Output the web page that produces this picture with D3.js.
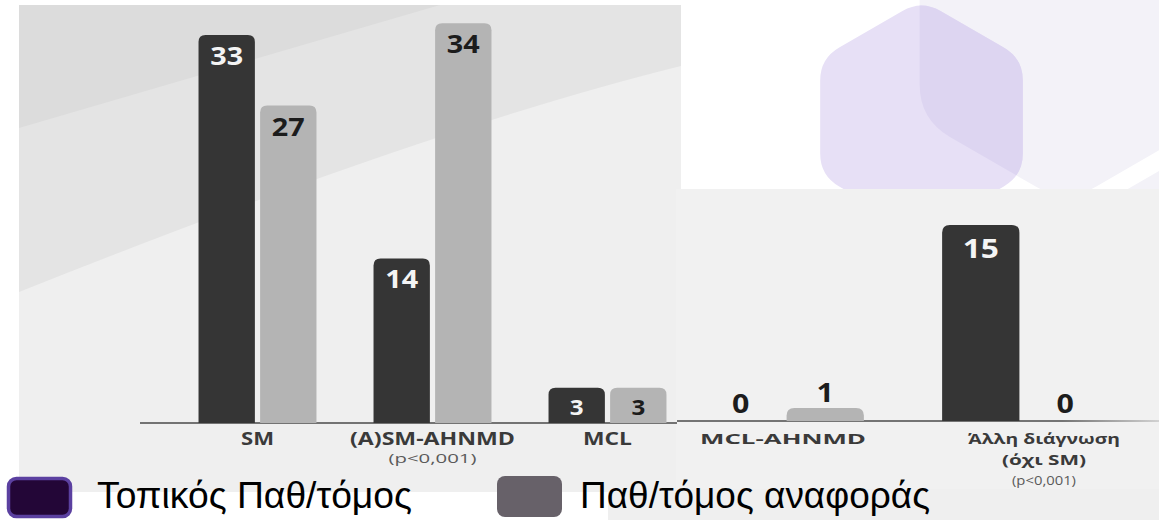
<!DOCTYPE html>
<html>
<head>
<meta charset="utf-8">
<script src="https://cdn.jsdelivr.net/npm/d3@7"></script>
<style>
  html, body { margin: 0; padding: 0; background: #ffffff; }
  svg { display: block; }
</style>
</head>
<body>
<svg id="chart" width="1159" height="520"></svg>
<script>
// ---- data ----
const categories = ["SM", "(A)SM-AHNMD", "MCL", "MCL-AHNMD", "Άλλη διάγνωση"];
const categorySubLines = ["", "", "", "", "(όχι SM)"];
const pValueNotes = ["", "(p<0,001)", "", "", "(p<0,001)"];
const seriesNames = ["Τοπικός Παθ/τόμος", "Παθ/τόμος αναφοράς"];
const localValues = [33, 14, 3, 0, 15];
const referenceValues = [27, 34, 3, 1, 0];

// ---- layout ----
const W = 1159, H = 520;
const svg = d3.select("#chart");
const seriesKeys = ["local", "reference"];
const barFill = { local: "#353535", reference: "#b4b4b4" };
const labelFillInside = { local: "#f4f4f4", reference: "#1c1c1c" };

const rows = categories.map((c, i) => ({
  name: c, sub: categorySubLines[i], note: pValueNotes[i],
  local: localValues[i], reference: referenceValues[i]
}));

// the chart is composed of two panels sharing the same style
const panels = [
  { rows: rows.slice(0, 3), xRange: [170, 695], yMax: 33, yRange: [423, 35],
    axis: [140, 677], k: 1, labelSize: 17.5, noteSize: 13.5, noteWidth: 88, labelShift: 0, fade: false,
    lineY: [445, 463, 463] },
  { rows: rows.slice(3), xRange: [663, 1143], yMax: 15, yRange: [421, 225],
    axis: [677, 1159], k: 1.1, labelSize: 15, noteSize: 13, noteWidth: 64, labelShift: 21, fade: true,
    lineY: [444, 465, 485] }
];
// rendered widths of the category captions (the typeface is drawn wide)
const captionWidth = { "SM": 33, "(A)SM-AHNMD": 165, "MCL": 49, "MCL-AHNMD": 166,
  "Άλλη διάγνωση": 152, "(όχι SM)": 84 };

// ---- background ----
const defs = svg.append("defs");
const fadeGrad = defs.append("linearGradient").attr("id", "axisFade")
  .attr("gradientUnits", "userSpaceOnUse").attr("x1", 677).attr("x2", 1159).attr("y1", 0).attr("y2", 0);
fadeGrad.append("stop").attr("offset", "0.8").attr("stop-color", "#4a4a4a");
fadeGrad.append("stop").attr("offset", "1").attr("stop-color", "#4a4a4a").attr("stop-opacity", 0.25);

const bg = svg.append("g");
bg.append("rect").attr("x", 19).attr("y", 5).attr("width", W - 19).attr("height", H - 5)
  .attr("fill", "#efefef");
bg.append("path").attr("d", "M19,5H681V66Q430,128 19,292Z").attr("fill", "#e4e4e4");
bg.append("path").attr("d", "M19,5H440L19,128Z").attr("fill", "#dcdcdc");
bg.append("rect").attr("x", 676).attr("y", 189).attr("width", W - 676).attr("height", 300)
  .attr("fill", "#f1f1f1");

// top-right decorative panel with rounded hexagons
function roundedHex(cx, cy, R, r) {
  const pts = d3.range(6).map(i => {
    const a = (-90 + 60 * i) * Math.PI / 180;
    return [cx + R * Math.cos(a), cy + R * Math.sin(a)];
  });
  let d = "";
  pts.forEach((p, i) => {
    const prev = pts[(i + 5) % 6], next = pts[(i + 1) % 6];
    const L = Math.hypot(p[0] - prev[0], p[1] - prev[1]);
    const a = [p[0] + (prev[0] - p[0]) * r / L, p[1] + (prev[1] - p[1]) * r / L];
    const b = [p[0] + (next[0] - p[0]) * r / L, p[1] + (next[1] - p[1]) * r / L];
    d += (i === 0 ? "M" : "L") + a[0] + "," + a[1] + "Q" + p[0] + "," + p[1] + " " + b[0] + "," + b[1];
  });
  return d + "Z";
}
defs.append("clipPath").attr("id", "panelClip")
  .append("rect").attr("x", 681).attr("y", 0).attr("width", W - 681).attr("height", 189);
const bigHex = roundedHex(1066, 35, 169, 35);
defs.append("clipPath").attr("id", "bigHexClip").append("path").attr("d", bigHex);
const deco = svg.append("g").attr("clip-path", "url(#panelClip)");
deco.append("rect").attr("x", 681).attr("y", 0).attr("width", W - 681).attr("height", 189).attr("fill", "#ffffff");
deco.append("path").attr("d", bigHex).attr("fill", "#f3f2f8");
deco.append("path").attr("d", roundedHex(1230, 280, 150, 30)).attr("fill", "#f3f2f8");
const smallHex = roundedHex(921.5, 117, 117, 22);
deco.append("path").attr("d", smallHex).attr("fill", "#e7e0f6");
deco.append("g").attr("clip-path", "url(#bigHexClip)")
  .append("path").attr("d", smallHex).attr("fill", "#ddd5f1");

// ---- bars ----
function topRounded(x, y, w, h, r) {
  r = Math.min(r, h, w / 2);
  return `M${x},${y + h}V${y + r}Q${x},${y} ${x + r},${y}H${x + w - r}Q${x + w},${y} ${x + w},${y + r}V${y + h}Z`;
}
function stretch(sel, f) {
  sel.each(function () {
    const n = this.getComputedTextLength();
    this.setAttribute("textLength", n * f);
    this.setAttribute("lengthAdjust", "spacingAndGlyphs");
  });
}
function fitWidth(sel, widthOf) {
  sel.each(function (d) {
    const w = widthOf(d);
    if (w) {
      this.setAttribute("textLength", w);
      this.setAttribute("lengthAdjust", "spacingAndGlyphs");
    }
  });
}

panels.forEach(p => {
  const x0 = d3.scaleBand().domain(p.rows.map(d => d.name)).range(p.xRange)
    .paddingInner(0.326).paddingOuter(0.163);
  const x1 = d3.scaleBand().domain(seriesKeys).range([0, x0.bandwidth()])
    .paddingInner(0.085).paddingOuter(0);
  const y = d3.scaleLinear().domain([0, p.yMax]).range(p.yRange);
  const base = y(0), k = p.k;
  const g = svg.append("g");

  // axis line
  g.append("line").attr("x1", p.axis[0]).attr("x2", p.axis[1])
    .attr("y1", base).attr("y2", base)
    .attr("stroke", p.fade ? "url(#axisFade)" : "#4a4a4a").attr("stroke-width", 1.6);

  const items = p.rows.flatMap(r => seriesKeys.map(s => ({ cat: r.name, s, v: r[s] })));
  const cells = g.selectAll("g.cell").data(items).join("g").attr("class", "cell")
    .attr("transform", d => `translate(${x0(d.cat) + x1(d.s)},0)`);
  const bw = x1.bandwidth();

  cells.filter(d => d.v > 0).append("path")
    .attr("d", d => topRounded(0, y(d.v), bw, base - y(d.v), 7 * k))
    .attr("fill", d => barFill[d.s]);

  cells.append("text")
    .attr("x", bw / 2)
    .attr("text-anchor", "middle")
    .attr("font-family", "'Open Sans', sans-serif")
    .attr("font-weight", 700)
    .each(function (d) {
      const h = base - y(d.v), t = d3.select(this);
      if (h < 20) {
        t.attr("y", d.v === 0 ? base - 8 : y(d.v) - 6)
          .attr("font-size", 24 * k).attr("fill", "#1c1c1c");
      } else if (h < 45) {
        t.attr("y", y(d.v) + 27).attr("font-size", 21 * k).attr("fill", labelFillInside[d.s]);
      } else {
        t.attr("y", y(d.v) + 30 * k).attr("font-size", 25 * k).attr("fill", labelFillInside[d.s]);
      }
    })
    .text(d => d.v)
    .call(stretch, 1.15);

  // category captions
  const labels = g.selectAll("g.cat").data(p.rows).join("g").attr("class", "cat")
    .attr("transform", (d, i) => `translate(${x0(d.name) + x0.bandwidth() / 2 + (i === p.rows.length - 1 ? p.labelShift : 0)},0)`)
    .attr("text-anchor", "middle")
    .attr("font-family", "'Open Sans', sans-serif");
  labels.append("text").attr("y", p.lineY[0]).attr("font-size", p.labelSize).attr("font-weight", 700)
    .attr("fill", "#3a3a3a").text(d => d.name).call(fitWidth, d => captionWidth[d.name]);
  labels.filter(d => d.sub).append("text").attr("y", p.lineY[1]).attr("font-size", p.labelSize)
    .attr("font-weight", 700).attr("fill", "#3a3a3a").text(d => d.sub)
    .call(fitWidth, d => captionWidth[d.sub]);
  labels.filter(d => d.note).append("text").attr("y", d => d.sub ? p.lineY[2] : p.lineY[1])
    .attr("font-size", p.noteSize).attr("fill", "#5a5a5a").text(d => d.note)
    .call(fitWidth, () => p.noteWidth);
});

// ---- legend ----
svg.append("rect").attr("x", 0).attr("y", 492).attr("width", 608).attr("height", 28).attr("fill", "#ffffff");
const legendItems = [
  { name: seriesNames[0], sx: 8.5, sy: 478.5, sw: 62, sh: 38, fill: "#230637", stroke: "#5b40a0", tx: 97, tw: 315 },
  { name: seriesNames[1], sx: 497, sy: 476, sw: 65, sh: 41, fill: "#676169", stroke: "none", tx: 580, tw: 350 }
];
const lg = svg.append("g").selectAll("g").data(legendItems).join("g");
lg.append("rect").attr("x", d => d.sx).attr("y", d => d.sy).attr("width", d => d.sw).attr("height", d => d.sh)
  .attr("rx", 8).attr("fill", d => d.fill).attr("stroke", d => d.stroke).attr("stroke-width", 3.5);
lg.append("text").attr("x", d => d.tx).attr("y", 508)
  .attr("font-family", "'Liberation Sans', Arial, sans-serif").attr("font-size", 36.5)
  .attr("fill", "#000000").text(d => d.name)
  .call(fitWidth, d => d.tw);
</script>
</body>
</html>
